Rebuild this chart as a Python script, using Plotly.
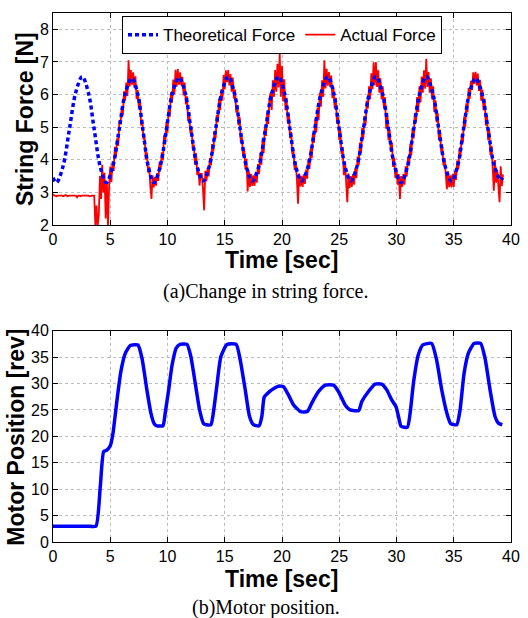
import plotly.graph_objects as go

# ---------------- data ----------------
x_ticks = [0, 5, 10, 15, 20, 25, 30, 35, 40]
force_ticks = [2, 3, 4, 5, 6, 7, 8]
pos_ticks = [0, 5, 10, 15, 20, 25, 30, 35, 40]

# Theoretical force (key points of the smooth curve)
theory_t = [0.0, 0.3,
            0.86, 1.43, 1.99, 2.55, 3.08, 3.6, 4.13, 4.65,
            5.21, 5.78, 6.34, 6.9, 7.38, 7.85, 8.33, 8.8,
            9.35, 9.9, 10.45, 11.0, 11.53, 12.05, 12.58, 13.1,
            13.65, 14.2, 14.75, 15.3, 15.83, 16.35, 16.88, 17.4,
            17.98, 18.55, 19.13, 19.7, 20.2, 20.7, 21.2, 21.7,
            22.28, 22.85, 23.43, 24.0, 24.5, 25.0, 25.5, 26.0,
            26.55, 27.1, 27.65, 28.2, 28.75, 29.3, 29.85, 30.4,
            30.95, 31.5, 32.05, 32.6, 33.15, 33.7, 34.25, 34.8,
            35.33, 35.85, 36.38, 36.9, 37.45, 38.0, 38.55, 39.1,
            39.25]
theory_f = [3.45, 3.3,
            3.78, 4.93, 6.07, 6.55, 6.07, 4.93, 3.78, 3.3,
            3.78, 4.93, 6.07, 6.5, 6.05, 4.92, 3.78, 3.3,
            3.78, 4.93, 6.07, 6.52, 6.07, 4.93, 3.8, 3.35,
            3.8, 4.93, 6.07, 6.55, 6.07, 4.93, 3.8, 3.35,
            3.8, 4.93, 6.07, 6.55, 6.07, 4.93, 3.8, 3.35,
            3.8, 4.93, 6.07, 6.55, 6.07, 4.93, 3.8, 3.35,
            3.8, 4.93, 6.07, 6.55, 6.07, 4.93, 3.78, 3.3,
            3.78, 4.93, 6.07, 6.55, 6.07, 4.93, 3.8, 3.35,
            3.8, 4.93, 6.05, 6.5, 6.05, 4.93, 3.8, 3.38,
            3.45]

# Actual force, sampled every 0.1 s from t = 0.0 s
actual_t0 = 0.0
actual_dt = 0.1
actual_f = [
    2.95, 2.90, 2.90, 2.88, 2.90, 2.90, 2.92, 2.90, 2.90, 2.88,   # 0
    2.90, 2.92, 2.90, 2.88, 2.90, 2.90, 2.90, 2.92, 2.90, 2.90,   # 1
    2.90, 2.85, 2.90, 2.90, 2.88, 2.90, 2.90, 2.90, 2.92, 2.90,   # 2
    2.90, 2.90, 2.88, 2.90, 2.90, 2.90, 2.90, 1.95, 2.60, 1.95,   # 3
    2.30, 3.50, 2.80, 3.85, 3.00, 3.60, 2.20, 3.30, 1.95, 3.20,   # 4
    3.79, 3.31, 3.95, 3.66, 4.40, 4.11, 4.66, 4.43, 5.20, 5.08,   # 5
    5.59, 5.35, 6.10, 5.82, 6.37, 5.96, 7.05, 6.25, 6.75, 6.30,   # 6
    6.68, 6.21, 6.56, 5.86, 6.14, 5.57, 5.84, 5.05, 5.23, 4.62,   # 7
    4.70, 4.01, 4.23, 3.61, 3.79, 3.19, 2.80, 3.52, 3.15, 3.47,   # 8
    3.21, 3.59, 3.35, 3.94, 3.70, 4.23, 3.98, 4.75, 4.47, 5.15,   # 9
    4.83, 5.55, 5.32, 6.07, 5.75, 6.46, 6.00, 6.76, 6.24, 6.78,   # 10
    6.30, 6.68, 6.28, 6.54, 5.97, 6.37, 5.70, 5.95, 5.18, 5.46,   # 11
    4.82, 5.03, 4.34, 4.47, 3.85, 4.20, 3.53, 3.73, 3.21, 3.57,   # 12
    3.57, 3.10, 2.45, 3.66, 3.34, 3.75, 3.49, 4.05, 3.83, 4.48,   # 13
    4.25, 4.87, 4.65, 5.38, 5.15, 5.87, 5.52, 6.15, 5.81, 6.60,   # 14
    6.16, 6.74, 6.38, 6.75, 6.28, 6.63, 6.09, 6.52, 5.87, 6.15,   # 15
    5.45, 5.68, 5.06, 5.32, 4.53, 4.69, 4.12, 4.35, 3.70, 4.03,   # 16
    3.03, 3.66, 3.17, 3.57, 3.20, 3.52, 3.20, 3.61, 3.30, 3.87,   # 17
    3.56, 4.22, 3.85, 4.65, 4.21, 4.97, 4.73, 5.44, 5.10, 5.86,   # 18
    6.05, 5.53, 6.44, 5.93, 6.75, 6.09, 6.94, 6.22, 7.25, 5.93,   # 19
    6.88, 5.79, 6.47, 5.52, 5.90, 5.11, 5.41, 4.66, 4.86, 4.17,   # 20
    4.34, 3.68, 3.94, 3.39, 2.65, 3.58, 3.18, 3.51, 3.17, 3.55,   # 21
    3.26, 3.70, 3.42, 4.01, 3.72, 4.35, 4.05, 4.81, 4.52, 5.23,   # 22
    4.84, 5.60, 5.21, 6.05, 5.63, 6.44, 5.93, 7.05, 6.19, 6.79,   # 23
    6.27, 6.69, 6.23, 6.58, 5.89, 6.22, 5.57, 5.90, 5.11, 5.31,   # 24
    4.61, 4.91, 4.17, 4.39, 3.53, 3.94, 3.29, 2.70, 3.58, 3.13,   # 25
    3.50, 3.17, 3.56, 3.24, 3.75, 3.44, 4.10, 3.83, 4.53, 4.20,   # 26
    4.97, 4.65, 5.33, 5.05, 5.82, 5.57, 6.25, 5.86, 6.65, 6.16,   # 27
    6.99, 6.28, 7.00, 6.23, 6.74, 6.06, 6.50, 5.86, 6.25, 5.57,   # 28
    5.92, 4.95, 5.43, 4.60, 4.92, 4.25, 4.53, 3.78, 4.05, 3.44,   # 29
    3.75, 3.24, 3.56, 2.80, 3.50, 3.17, 3.56, 3.24, 3.80, 3.49,   # 30
    4.10, 3.83, 4.48, 4.15, 4.97, 4.65, 5.43, 5.15, 5.92, 5.47,   # 31
    6.25, 5.76, 6.55, 6.06, 6.74, 6.18, 7.10, 6.23, 6.69, 6.06,   # 32
    6.50, 5.86, 6.25, 5.47, 5.82, 5.15, 5.43, 4.60, 4.92, 4.25,   # 33
    4.43, 3.83, 4.05, 3.44, 3.10, 3.64, 3.16, 3.52, 3.15, 3.57,   # 34
    3.17, 3.66, 3.38, 3.98, 3.70, 4.35, 4.12, 4.79, 4.53, 5.32,   # 35
    5.01, 5.73, 5.45, 6.20, 5.87, 6.42, 6.14, 6.68, 6.33, 6.70,   # 36
    6.28, 6.64, 6.11, 6.45, 5.81, 6.15, 5.52, 5.87, 5.05, 5.38,   # 37
    4.60, 4.92, 4.15, 4.43, 3.78, 3.05, 3.99, 3.30, 3.69, 3.16,   # 38
    2.70, 3.80, 3.20, 3.55,                                       # 39
]
actual_t = [round(actual_t0 + i * actual_dt, 2) for i in range(len(actual_f))]

# Motor position (key points of the curve)
motor_t = [0.0, 3.0, 3.75, 4.13, 4.42, 4.71, 5.0, 5.24, 5.59, 5.93, 6.31, 6.75,
           7.42, 7.77, 8.2, 8.55, 8.84, 9.08, 9.6, 9.8, 10.1, 10.4, 10.76,
           11.1, 11.7, 12.04, 12.42, 12.8, 13.15, 13.38, 13.79, 14.0, 14.3,
           14.66, 15.19, 16.0, 16.35, 16.79, 17.16, 17.5, 18.0, 18.24, 18.44,
           18.68, 19.1, 19.7, 20.13, 20.57, 21.0, 21.6, 22.22, 22.6, 23.2,
           23.8, 24.5, 24.93, 25.5, 25.95, 26.7, 26.97, 27.55, 28.13, 28.7,
           29.15, 29.58, 29.96, 30.17, 30.4, 30.95, 31.19, 31.48, 31.9, 32.3,
           33.07, 33.5, 33.95, 34.4, 34.73, 35.26, 35.55, 35.9, 36.27, 36.77,
           37.35, 37.73, 38.17, 38.6, 38.9, 39.24]
motor_pos = [3.0, 3.0, 3.0, 10.5, 17.1, 17.4, 18.2, 20.6, 26.9, 32.3, 35.7, 37.2,
             37.3, 34.8, 28.8, 24.4, 22.4, 22.0, 22.0, 24.4, 28.8, 33.5, 36.7,
             37.4, 37.4, 35.1, 30.1, 25.0, 22.4, 22.2, 22.2, 24.4, 29.4,
             35.1, 37.4, 37.4, 34.5, 28.8, 23.8, 22.2, 22.0, 23.8, 27.4,
             28.0, 28.8, 29.5, 29.4, 27.8, 26.0, 24.7, 24.7, 26.3, 28.5,
             29.7, 29.7, 28.5, 26.0, 25.0, 24.9, 26.6, 28.5, 29.9, 29.9,
             28.8, 26.9, 25.6, 23.8, 21.9, 21.7, 24.4, 30.1, 35.4, 37.3,
             37.6, 34.5, 28.8, 24.4, 22.4, 22.2, 25.0, 31.9, 35.7, 37.6,
             37.6, 34.8, 28.8, 23.8, 22.5, 22.2]

# ---------------- figure ----------------
FONT = "Liberation Sans, Arial, Helvetica, sans-serif"
SERIF = "Liberation Serif, Times New Roman, serif"

fig = go.Figure()

fig.add_trace(go.Scatter(
    x=actual_t, y=actual_f, mode="lines", name="Actual Force",
    line=dict(color="#ff0000", width=1.8), legendrank=2,
    xaxis="x", yaxis="y"))
fig.add_trace(go.Scatter(
    x=theory_t, y=theory_f, mode="lines", name="Theoretical Force",
    line=dict(color="#0000ff", width=3.5, dash="4px,3px", shape="spline", smoothing=1.0),
    legendrank=1, xaxis="x", yaxis="y"))
fig.add_trace(go.Scatter(
    x=motor_t, y=motor_pos, mode="lines", name="Motor Position",
    line=dict(color="#0000ff", width=3.5, shape="spline", smoothing=0.5),
    showlegend=False, xaxis="x2", yaxis="y2"))

axis_common = dict(
    automargin=False,
    showline=True, linecolor="black", linewidth=1, mirror="allticks",
    ticks="inside", ticklen=5, tickcolor="black", tickwidth=1,
    showgrid=True, gridcolor="#bdbdbd", gridwidth=1, griddash="dot",
    zeroline=False, tickfont=dict(family=FONT, size=16, color="black"),
)

title_font = dict(family=FONT, size=23, color="black")
cap_font = dict(family=SERIF, size=20, color="black")

fig.update_layout(
    width=528, height=618,
    margin=dict(l=53, r=17, t=13, b=76, autoexpand=False),
    paper_bgcolor="white", plot_bgcolor="white",
    font=dict(family=FONT, color="black"),
    xaxis=dict(domain=[0, 1], anchor="y", range=[0, 40], tickvals=x_ticks, **axis_common),
    yaxis=dict(domain=[0.5992, 1], anchor="x", range=[2, 8.5], tickvals=force_ticks, **axis_common),
    xaxis2=dict(domain=[0, 1], anchor="y2", range=[0, 40], tickvals=x_ticks, **axis_common),
    yaxis2=dict(domain=[0, 0.3994], anchor="x2", range=[0, 40], tickvals=pos_ticks, **axis_common),
    legend=dict(orientation="h", x=0.5, xanchor="center", y=0.994, yanchor="top",
                bgcolor="white", bordercolor="black", borderwidth=1,
                font=dict(family=FONT, size=17, color="black"),
                itemwidth=30, tracegroupgap=0),
    showlegend=True,
    annotations=[
        # axis titles
        dict(text="<b>Time [sec]</b>", xref="paper", yref="paper",
             x=0.499, y=0.533, xanchor="center", yanchor="middle", showarrow=False,
             font=title_font),
        dict(text="<b>String Force [N]</b>", xref="paper", yref="paper",
             x=-0.0611, y=0.7996, xanchor="center", yanchor="middle", showarrow=False,
             textangle=-90, font=title_font),
        dict(text="<b>Time [sec]</b>", xref="paper", yref="paper",
             x=0.499, y=-0.069, xanchor="center", yanchor="middle", showarrow=False,
             font=title_font),
        dict(text="<b>Motor Position [rev]</b>", xref="paper", yref="paper",
             x=-0.0808, y=0.199, xanchor="center", yanchor="middle", showarrow=False,
             textangle=-90, font=title_font),
        # captions
        dict(text="(a)Change in string force.", xref="paper", yref="paper",
             x=0.465, y=0.4726, xanchor="center", yanchor="middle", showarrow=False,
             font=cap_font),
        dict(text="(b)Motor position.", xref="paper", yref="paper",
             x=0.465, y=-0.124, xanchor="center", yanchor="middle", showarrow=False,
             font=cap_font),
    ],
)

fig.write_html("out.html", config={"displayModeBar": False},
               post_script="document.body.style.margin='0';")
